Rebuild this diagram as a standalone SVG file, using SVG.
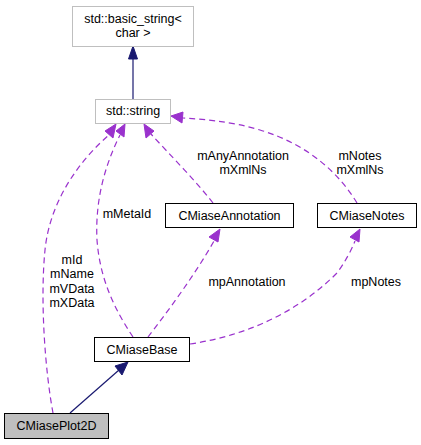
<svg xmlns="http://www.w3.org/2000/svg" width="421" height="445" viewBox="0 0 421 445">
<style>
text{font-family:"Liberation Sans",Arial,sans-serif;font-size:12.5px;fill:#000;text-anchor:middle}
.gray{fill:#fff;stroke:#bfbfbf;stroke-width:1}
.blk{fill:#fff;stroke:#000;stroke-width:1}
.cur{fill:#bfbfbf;stroke:#000;stroke-width:1}
.inh{fill:none;stroke:#191970;stroke-width:1.2}
.use{fill:none;stroke:#9a32cd;stroke-width:1.2;stroke-dasharray:6,4}
.ah{fill:#191970;stroke:#191970}
.ap{fill:#9a32cd;stroke:#9a32cd}
</style>
<rect width="421" height="445" fill="#fff"/>
<g id="connectors">
  <path class="inh" d="M133,99 V58"/>
  <polygon class="ah" points="133,46 128.5,59 137.5,59"/>
  <path class="inh" d="M70,413 L119,370"/>
  <polygon class="ah" points="128,362 115,366 122,375"/>
  <path class="use" d="M53,413 C45,370 40,300 45,250 C50,200 80,160 110,134"/>
  <polygon class="ap" points="116,124 105,131 113,138"/>
  <path class="use" d="M133,337 C115,310 100,280 97,240 C95,200 105,165 120,135"/>
  <polygon class="ap" points="125,124 116,131 124,137"/>
  <path class="use" d="M213,203 C195,180 170,155 151,134"/>
  <polygon class="ap" points="144,124 146,138 154,131"/>
  <path class="use" d="M357,203 C340,175 310,145 260,130 C230,121 200,119 183,118"/>
  <polygon class="ap" points="171,116 183,112 182,123"/>
  <path class="use" d="M148,337 C165,315 195,275 214,241"/>
  <polygon class="ap" points="220,229 209,237 218,242"/>
  <path class="use" d="M190,344 C250,335 300,310 337,273 C345,262 351,251 355,241"/>
  <polygon class="ap" points="360,229 350,237 359,242"/>
  <text x="243" y="160">mAnyAnnotation</text>
  <text x="243" y="174">mXmlNs</text>
  <text x="360" y="160">mNotes</text>
  <text x="360" y="174">mXmlNs</text>
  <text x="127" y="218">mMetaId</text>
  <text x="72" y="264">mId</text>
  <text x="72" y="278">mName</text>
  <text x="72" y="293">mVData</text>
  <text x="72" y="307">mXData</text>
  <text x="247" y="286">mpAnnotation</text>
  <text x="376" y="286">mpNotes</text>
</g>
<g id="node-basic_string">
  <rect class="gray" x="72.5" y="6.5" width="121" height="40"/>
  <text x="133" y="23">std::basic_string&lt;</text>
  <text x="133" y="37">char &gt;</text>
</g>
<g id="node-string">
  <rect class="gray" x="95.5" y="99.5" width="75" height="24"/>
  <text x="133" y="115">std::string</text>
</g>
<g id="node-annotation">
  <rect class="blk" x="165.5" y="203.5" width="128" height="24"/>
  <text x="229.5" y="220">CMiaseAnnotation</text>
</g>
<g id="node-notes">
  <rect class="blk" x="317.5" y="203.5" width="99" height="24"/>
  <text x="367" y="220">CMiaseNotes</text>
</g>
<g id="node-base">
  <rect class="blk" x="94.5" y="337.5" width="95" height="24"/>
  <text x="142" y="354">CMiaseBase</text>
</g>
<g id="node-plot2d">
  <rect class="cur" x="4.5" y="413.5" width="104" height="25"/>
  <text x="56.5" y="430">CMiasePlot2D</text>
</g>
</svg>
